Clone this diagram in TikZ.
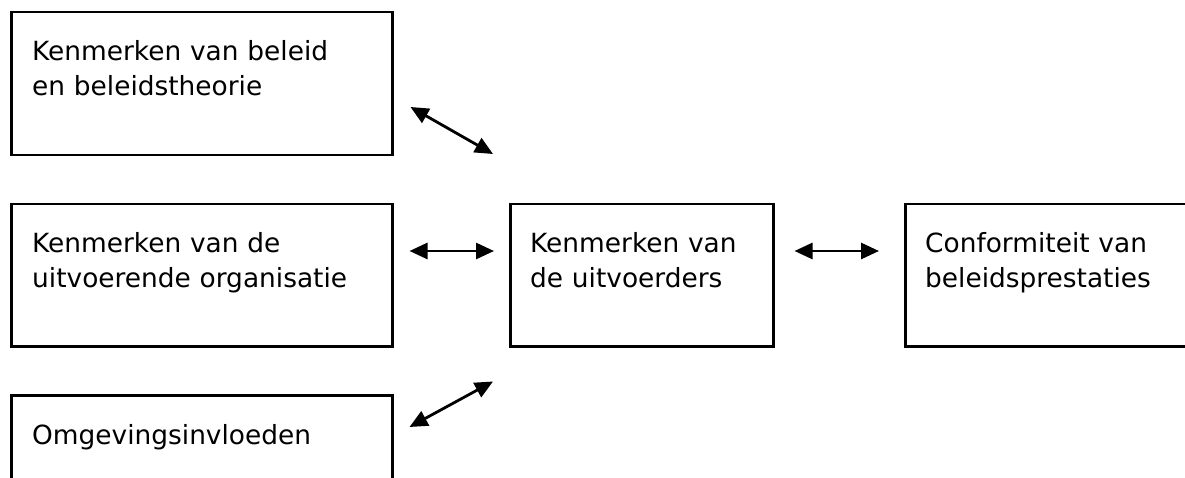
\documentclass[tikz,border=0pt]{standalone}
\usepackage{fontspec}
\setmainfont{DejaVu Sans}
\usetikzlibrary{arrows.meta}
\begin{document}
\begin{tikzpicture}[x=1pt,y=-1pt,
  box/.style={draw=black, line width=2.5pt, inner sep=0pt, anchor=north west,
              minimum height=142pt},
  boxtext/.style={anchor=base west, inner sep=0pt, align=left, text width=340pt,
              font=\fontsize{26.4}{35}\selectfont},
  link/.style={line width=2.8pt,
              {Triangle[length=18pt,width=16pt]}-{Triangle[length=18pt,width=16pt]}}]
  \useasboundingbox (0,0) rectangle (1185,478);

  % the five boxes
  \node[box, minimum width=381pt, minimum height=143pt] (beleid) at (10,11) {};
  \node[box, minimum width=381pt] (organisatie) at (10,203) {};
  \node[box, minimum width=263pt] (uitvoerders) at (509,203) {};
  \node[box, minimum width=320pt] (conformiteit) at (904,203) {};
  \node[box, minimum width=381pt] (omgeving) at (10,394) {};

  % texts inside the boxes
  \node[boxtext] (tbeleid) at ([shift={(22,50)}]beleid.north west)
    {Kenmerken van beleid\\en beleidstheorie};
  \node[boxtext] (torganisatie) at ([shift={(22,50)}]organisatie.north west)
    {Kenmerken van de\\uitvoerende organisatie};
  \node[boxtext] (tuitvoerders) at ([shift={(21,50)}]uitvoerders.north west)
    {Kenmerken van\\de uitvoerders};
  \node[boxtext] (tconformiteit) at ([shift={(21,50)}]conformiteit.north west)
    {Conformiteit van\\beleidsprestaties};
  \node[boxtext] (tomgeving) at ([shift={(22,50)}]omgeving.north west)
    {Omgevingsinvloeden};

  % two-way links
  \draw[link] ([shift={(17,96)}]beleid.north east) -- ([shift={(-16,-49)}]uitvoerders.north west);
  \draw[link] ([shift={(16,48)}]organisatie.north east) -- ([shift={(-15,48)}]uitvoerders.north west);
  \draw[link] ([shift={(20,48)}]uitvoerders.north east) -- ([shift={(-25,48)}]conformiteit.north west);
  \draw[link] ([shift={(16,33)}]omgeving.north east) -- ([shift={(-16,34)}]uitvoerders.south west);
\end{tikzpicture}
\end{document}
